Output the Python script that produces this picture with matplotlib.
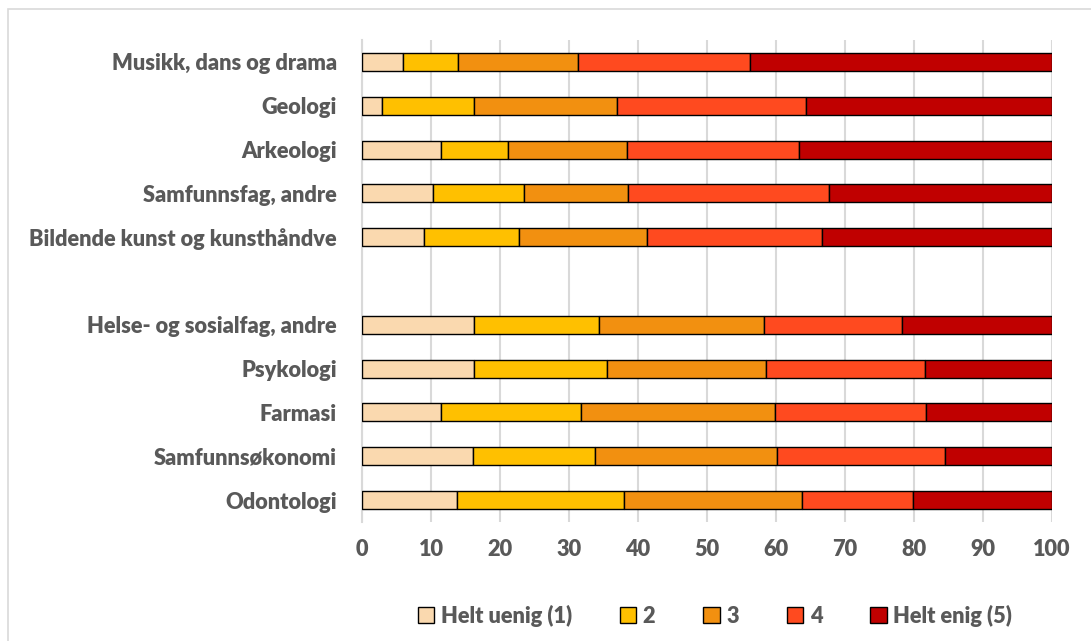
import numpy as np
import matplotlib
matplotlib.use("Agg")
import matplotlib.pyplot as plt
from matplotlib.patches import Rectangle

categories = [
    "Musikk, dans og drama",
    "Geologi",
    "Arkeologi",
    "Samfunnsfag, andre",
    "Bildende kunst og kunsthåndve",
    "",
    "Helse- og sosialfag, andre",
    "Psykologi",
    "Farmasi",
    "Samfunnsøkonomi",
    "Odontologi",
]

helt_uenig = [5.9, 2.9, 11.5, 10.3, 9.0, np.nan, 16.3, 16.2, 11.4, 16.1, 13.7]
val_2 = [8.0, 13.4, 9.6, 13.2, 13.8, np.nan, 18.0, 19.3, 20.4, 17.7, 24.2]
val_3 = [17.4, 20.7, 17.3, 15.1, 18.5, np.nan, 24.0, 23.0, 28.0, 26.4, 25.8]
val_4 = [25.0, 27.4, 25.0, 29.1, 25.3, np.nan, 20.0, 23.1, 22.0, 24.3, 16.1]
helt_enig = [43.7, 35.6, 36.6, 32.3, 33.4, np.nan, 21.7, 18.4, 18.2, 15.5, 20.2]

series_names = ["Helt uenig (1)", "2", "3", "4", "Helt enig (5)"]
colors = ["#FAD9AF", "#FFC000", "#F29010", "#FF4A1F", "#C00000"]
xticks = [0, 10, 20, 30, 40, 50, 60, 70, 80, 90, 100]

plt.rcParams["font.family"] = ["Lato", "DejaVu Sans"]
text_color = "#595959"
fs = 15.7
weight = "heavy"

fig = plt.figure(figsize=(10.91, 6.41), dpi=100)
ax = fig.add_axes([362 / 1091, 1 - 522 / 641, 690 / 1091, 482 / 641])

y = np.arange(len(categories))
left = np.zeros(len(categories))
series = [helt_uenig, val_2, val_3, val_4, helt_enig]
for name, vals, col in zip(series_names, series, colors):
    v = np.array(vals, dtype=float)
    ax.barh(y, v, left=left, height=0.41, color=col, edgecolor="black",
            linewidth=1.0, label=name, zorder=3)
    left = left + np.nan_to_num(v)

ax.set_xlim(0, 100)
ax.set_ylim(len(categories) - 0.5, -0.5)
ax.set_xticks(xticks)
ax.set_xticklabels([str(t) for t in xticks])
ax.set_yticks(y)
ax.set_yticklabels(categories)
ax.tick_params(axis="both", length=0, colors=text_color, labelsize=fs)
ax.tick_params(axis="y", pad=18)
ax.tick_params(axis="x", pad=12)
for lab in ax.get_xticklabels() + ax.get_yticklabels():
    lab.set_fontweight(weight)
    lab.set_color(text_color)

ax.grid(axis="x", color="#D9D9D9", linewidth=1.5, zorder=0)
ax.set_axisbelow(True)
for s in ["top", "right", "bottom"]:
    ax.spines[s].set_visible(False)
ax.spines["left"].set_color("#D9D9D9")
ax.spines["left"].set_linewidth(1.5)

leg = fig.legend(loc="center", bbox_to_anchor=(715 / 1091, 1 - 616 / 641),
                 ncol=5, frameon=False, handlelength=0.75, handleheight=0.75,
                 handletextpad=0.3, columnspacing=2.2,
                 prop={"weight": weight, "size": fs})
for t in leg.get_texts():
    t.set_color(text_color)

fig.patches.append(Rectangle((8 / 1091, -0.1), 1.2, 1 - 9 / 641 + 0.1,
                             transform=fig.transFigure, fill=False,
                             edgecolor="#D9D9D9", linewidth=1.2))

fig.savefig("out.png", dpi=100)
